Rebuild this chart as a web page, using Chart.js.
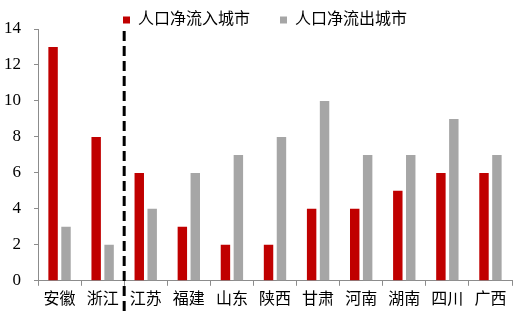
<!DOCTYPE html>
<html>
<head>
<meta charset="utf-8">
<script src="https://cdn.jsdelivr.net/npm/chart.js"></script>
<style>
  html, body { margin: 0; padding: 0; background: #ffffff; }
</style>
</head>
<body>
<canvas id="flowChart" width="526" height="321"></canvas>
<script>
// provinces on the x axis
const provinces = ['安徽', '浙江', '江苏', '福建', '山东', '陕西', '甘肃', '河南', '湖南', '四川', '广西'];
// number of cities with net population inflow / outflow
const inflowCities = [13, 8, 6, 3, 2, 2, 4, 4, 5, 6, 6];
const outflowCities = [3, 2, 4, 6, 7, 8, 10, 7, 7, 9, 7];
const yTicks = [0, 2, 4, 6, 8, 10, 12, 14];

const FONT = '"Liberation Serif", "Noto Sans CJK SC", serif';

// vertical dashed divider between 浙江 and 江苏
const dividerPlugin = {
    id: 'divider',
    afterLayout(chart) {
        // nudge legend a bit to the right, like the original
        chart.legend.left += 7;
        chart.legend.right += 7;
    },
    afterDraw(chart) {
        const x = chart.scales.x;
        const px = (x.getPixelForValue(1) + x.getPixelForValue(2)) / 2;
        const ctx = chart.ctx;
        ctx.save();
        ctx.strokeStyle = '#000000';
        ctx.lineWidth = 3;
        ctx.setLineDash([10, 5]);
        ctx.beginPath();
        ctx.moveTo(px, chart.chartArea.top + 2);
        ctx.lineTo(px, chart.height - 10);
        ctx.stroke();
        ctx.restore();
    }
};

new Chart(document.getElementById('flowChart'), {
    type: 'bar',
    data: {
        labels: provinces,
        datasets: [
            {
                label: '人口净流入城市',
                data: inflowCities,
                backgroundColor: '#C00000',
                categoryPercentage: 0.6,
                barPercentage: 0.73
            },
            {
                label: '人口净流出城市',
                data: outflowCities,
                backgroundColor: '#A6A6A6',
                categoryPercentage: 0.6,
                barPercentage: 0.73
            }
        ]
    },
    options: {
        responsive: false,
        animation: false,
        devicePixelRatio: 1,
        layout: { padding: { left: 4, right: 14, top: -18, bottom: 8 } },
        plugins: {
            legend: {
                display: true,
                position: 'top',
                maxHeight: 47,
                labels: {
                    boxWidth: 7,
                    boxHeight: 7,
                    color: '#000000',
                    padding: 30,
                    font: { family: FONT, size: 16 }
                }
            },
            tooltip: { enabled: false }
        },
        scales: {
            x: {
                grid: {
                    drawOnChartArea: false,
                    drawTicks: true,
                    tickLength: 5,
                    color: '#8C8C8C'
                },
                border: { display: true, color: '#8C8C8C' },
                ticks: {
                    color: '#000000',
                    padding: 4,
                    maxRotation: 0,
                    font: { family: FONT, size: 16 }
                }
            },
            y: {
                min: 0,
                max: 14,
                afterBuildTicks(axis) {
                    axis.ticks = yTicks.map(v => ({ value: v }));
                },
                afterFit(axis) {
                    axis.width = 34;
                },
                grid: {
                    drawOnChartArea: false,
                    drawTicks: true,
                    tickLength: 4,
                    color: '#8C8C8C'
                },
                border: { display: true, color: '#8C8C8C' },
                ticks: {
                    color: '#000000',
                    padding: 13,
                    font: { family: FONT, size: 17 }
                }
            }
        }
    },
    plugins: [dividerPlugin]
});
</script>
</body>
</html>
